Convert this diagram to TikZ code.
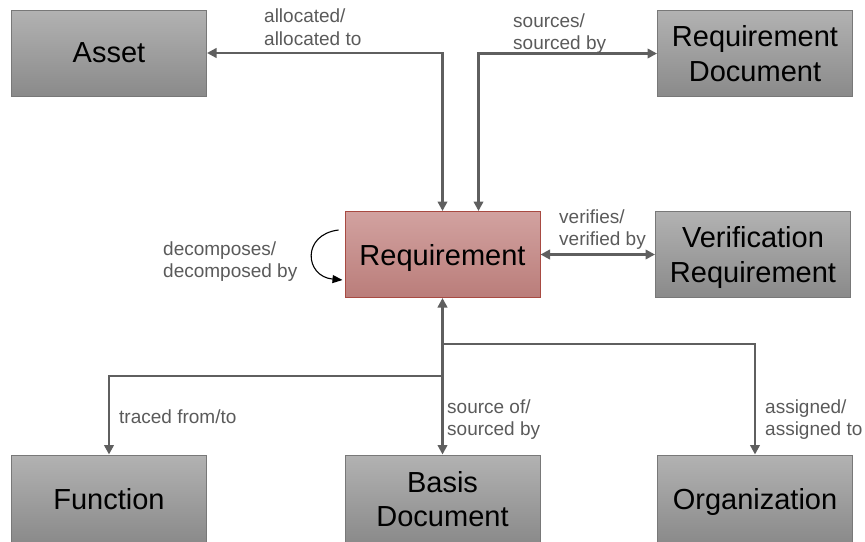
\documentclass[tikz,border=0pt]{standalone}
\usepackage{fontspec}
\setmainfont{Liberation Sans}
\usetikzlibrary{arrows.meta,calc}

\definecolor{linegray}{HTML}{5F5F5F}
\definecolor{labelgray}{HTML}{5A5A5A}
\definecolor{boxtop}{HTML}{B2B2B2}
\definecolor{boxbot}{HTML}{8A8A8A}
\definecolor{boxedge}{HTML}{787878}
\definecolor{reqtop}{HTML}{D2A2A0}
\definecolor{reqbot}{HTML}{BA7D7A}
\definecolor{reqedge}{HTML}{A84A42}

\begin{document}
\begin{tikzpicture}[x=1pt,y=-1pt,
  entity/.style={draw=boxedge, line width=1pt, top color=boxtop, bottom color=boxbot,
    minimum width=195pt, minimum height=86pt, inner sep=0pt, align=center,
    font=\fontsize{29}{34.5}\selectfont, text depth=0pt},
  reqbox/.style={entity, draw=reqedge, top color=reqtop, bottom color=reqbot},
  conn/.style={draw=linegray, line width=2.5pt},
  loopline/.style={draw=black, line width=1.1pt, -{Triangle[length=10pt,width=8pt]}},
  lbl/.style={text=labelgray, font=\fontsize{19}{22.5}\selectfont, align=left,
    inner sep=0pt, anchor=base west},
  >={Triangle[length=9.5pt,width=9.5pt]}]

\useasboundingbox (0,0) rectangle (865,541);

% entities
\node[entity]  (asset)  at (109,53)     {Asset};
\node[entity]  (reqdoc) at (755,53.5)   {Requirement\\Document};
\node[reqbox]  (req)    at (442.5,254.5) {Requirement};
\node[entity]  (verreq) at (753,254.5)  {Verification\\Requirement};
\node[entity, minimum height=88pt] (func)  at (109,499)   {Function};
\node[entity, minimum height=88pt] (basis) at (442.5,499) {Basis\\Document};
\node[entity, minimum height=88pt] (org)   at (755,499)   {Organization};

% relations
\draw[conn,<->] (req.north) |- (asset.east);
\draw[conn,<->] ([xshift=36pt]req.north) |- (reqdoc.west);
\draw[conn,<->] (req.east) -- (verreq.west);
\draw[conn,<->] (req.south) -- (basis.north);
\coordinate (jr) at ($(req.south)+(0,46)$);
\coordinate (jl) at ($(req.south)+(0,78)$);
\draw[conn,->] (jl) -| (func.north);
\draw[conn,->] (jr) -| (org.north);

% self relation
\draw[loopline] ($(req.west)+(-6,-24.5)$) .. controls ($(req.west)+(-43,-20)$) and ($(req.west)+(-40,22)$) .. ($(req.west)+(-2,25.5)$);

% relation labels (anchored on the baseline of their last line)
\node[lbl] (l1) at (264,45)    {allocated/\\allocated to};
\node[lbl] (l2) at (513,49.5)  {sources/\\sourced by};
\node[lbl] (l3) at (559,245.5) {verifies/\\verified by};
\node[lbl] (l4) at (163,277.5) {decomposes/\\decomposed by};
\node[lbl] (l5) at (119,423)   {traced from/to};
\node[lbl] (l6) at (447,435.5) {source of/\\sourced by};
\node[lbl] (l7) at (765,435.5) {assigned/\\assigned to};
\end{tikzpicture}
\end{document}
